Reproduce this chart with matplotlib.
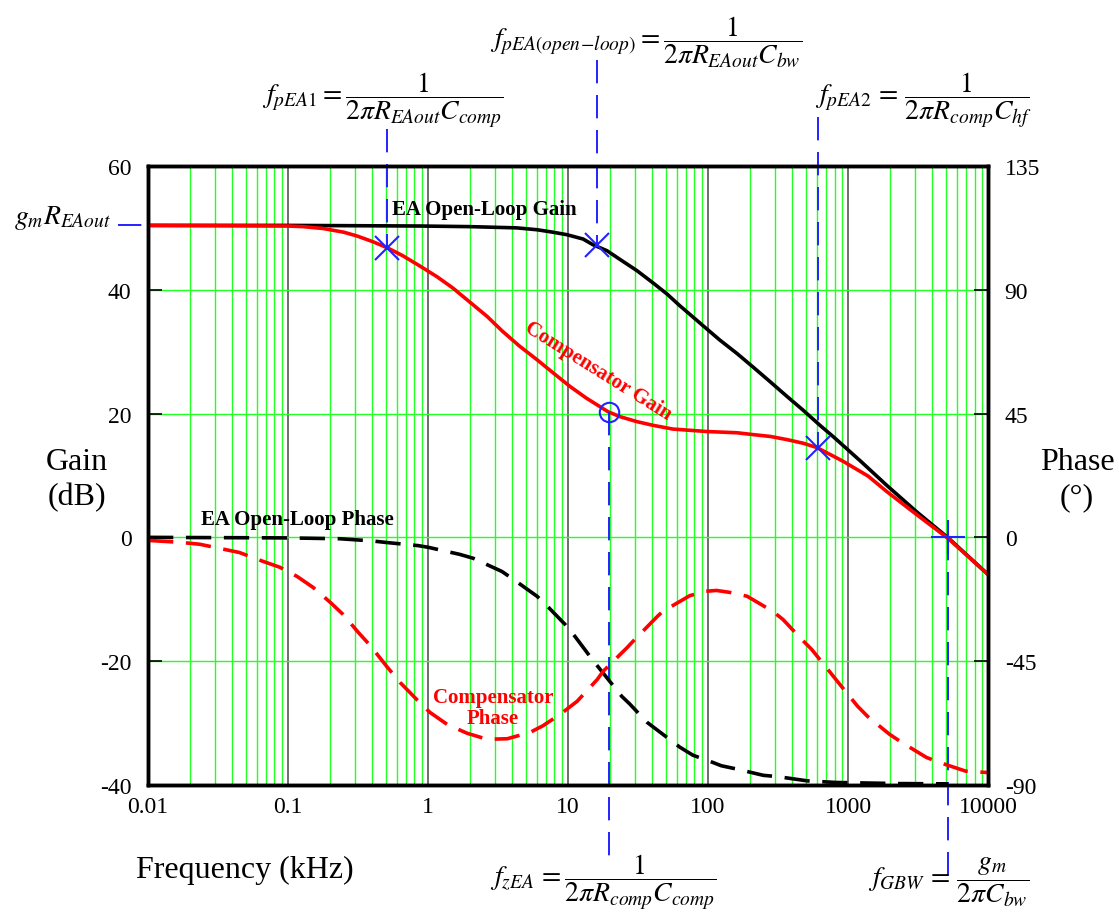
import numpy as np
import matplotlib
matplotlib.use("Agg")
import matplotlib.pyplot as plt
from matplotlib.ticker import FixedLocator, NullFormatter

plt.rcParams['font.family'] = ['Liberation Serif', 'DejaVu Serif']
plt.rcParams['mathtext.fontset'] = 'stix'
plt.rcParams['axes.unicode_minus'] = False

# frequency in kHz, gain in dB, phase in degrees
f_ol_gain = [0.01, 0.1, 0.88, 2.0, 4.3, 6.0, 7.8, 9.8, 12.8, 15, 19, 23.5, 31, 40.5, 51, 63, 78, 92,
             121, 161, 210, 279, 365, 480, 630, 790, 1230, 1890, 3100, 5200, 10000]
ol_gain = [50.4, 50.4, 50.3, 50.2, 50.0, 49.7, 49.3, 48.9, 48.2, 47.3, 46.3, 44.9, 43.1, 41.1, 39.3, 37.4, 35.6, 34.2,
           31.9, 29.7, 27.5, 25.1, 22.8, 20.5, 18.1, 16.2, 12.3, 8.4, 4.1, -0.1, -6.0]

f_comp_gain = [0.01, 0.1, 0.128, 0.178, 0.25, 0.31, 0.40, 0.51, 0.66, 0.88, 1.16, 1.5, 1.99, 2.64, 3.4, 4.5, 6.0,
               7.8, 10.3, 13.5, 19.3, 23.5, 31, 40.5, 56, 98, 161, 210, 279, 365, 480, 600, 920, 1390,
               1890, 3080, 5200, 10000]
comp_gain = [50.4, 50.3, 50.2, 49.9, 49.3, 48.7, 47.8, 46.8, 45.5, 43.8, 42.1, 40.3, 38.0, 35.7, 33.3, 30.9, 28.7,
             26.6, 24.4, 22.5, 20.3, 19.5, 18.7, 18.1, 17.5, 17.1, 16.9, 16.6, 16.3, 15.8, 15.2, 14.5, 12.3, 9.9,
             7.4, 3.7, -0.2, -6.0]

f_ol_phase = [0.01, 0.1, 0.234, 0.40, 0.49, 0.85, 1.0, 1.69, 2.1, 3.37, 4.0, 6.0, 6.8, 9.5, 11.2, 15.0, 17.4,
              24.2, 27.5, 36.6, 63, 78, 108, 124, 163, 248, 318, 509, 822, 1380, 2340, 5180]
ol_phase = [0, -0.2, -0.5, -1.3, -1.8, -3.0, -3.6, -6.2, -7.6, -12.4, -15.0, -21.4, -24.0, -31.6, -36.0, -44.6, -48.7,
            -57.8, -60.5, -67.2, -76.3, -79.2, -81.8, -83.0, -84.3, -86.5, -87.0, -88.5, -89.1, -89.3, -89.5, -89.6]

f_comp_phase = [0.01, 0.0169, 0.0234, 0.0324, 0.0449, 0.0661, 0.0877, 0.116, 0.151, 0.2, 0.247, 0.317, 0.386,
                0.51, 0.63, 0.84, 1.03, 1.37, 1.9, 2.64, 3.68, 5.35, 6.6, 8.8, 11.6, 16.2, 17.8, 26.5, 29.2,
                43.5, 47.5, 74, 95, 115, 143, 190, 290, 342, 467, 549, 765, 872, 1170, 1380, 1980, 2410,
                3630, 4480, 6940, 10000]
comp_phase = [-1.1, -1.8, -2.5, -4.0, -5.5, -8.7, -10.9, -14.2, -18.2, -23.6, -28.0, -34.5, -39.3,
              -47.1, -52.7, -59.2, -63.6, -68.0, -71.2, -73.4, -73.2, -70.9, -68.5, -64.3, -59.6, -51.6, -48.7, -40.0, -37.7,
              -28.7, -26.9, -21.2, -19.6, -19.3, -20.0, -21.4, -26.9, -29.8, -37.1, -40.7, -49.8, -53.4, -61.4, -65.1, -71.6, -74.5,
              -80.0, -81.8, -85.0, -85.5]

# marked points: (freq, gain)
f_pea1, g_pea1 = 0.51, 46.8
f_peaol, g_peaol = 16, 47.3
f_pea2, g_pea2 = 610, 14.4
f_zea, g_zea = 19.6, 20.2
f_gbw, g_gbw = 5200, 0.0

x_ticks = [0.01, 0.1, 1, 10, 100, 1000, 10000]
x_ticklabels = ['0.01', '0.1', '1', '10', '100', '1000', '10000']
gain_ticks = [-40, -20, 0, 20, 40, 60]
phase_ticks = [-90, -45, 0, 45, 90, 135]

fig = plt.figure(figsize=(11.19, 9.2), dpi=100)
ax = fig.add_axes([0.1323, 0.1457, 0.7507, 0.6728])
ax.set_xscale('log')
ax.set_xlim(0.01, 10000)
ax.set_ylim(-40, 60)
ax.set_autoscale_on(False)

# grid
minors = [k * 10.0 ** d for d in range(-2, 4) for k in range(2, 10)]
for m in minors:
    ax.axvline(m, color='#22ff22', lw=1.0, zorder=0)
for d in x_ticks[1:-1]:
    ax.axvline(d, color='#555555', lw=1.2, zorder=0)
for g in gain_ticks[1:-1]:
    ax.axhline(g, color='#22ff22', lw=1.0, zorder=0)

ax.xaxis.set_major_locator(FixedLocator(x_ticks))
ax.set_xticklabels(x_ticklabels)
ax.xaxis.set_minor_formatter(NullFormatter())
ax.tick_params(axis='x', which='both', length=0, labelsize=17, pad=8)
ax.set_yticks(gain_ticks)
ax.tick_params(axis='y', direction='in', length=10, width=1.2, labelsize=17, pad=12)
for s in ax.spines.values():
    s.set_linewidth(2.5)

ax.plot(f_ol_gain, ol_gain, color='black', lw=2.6, zorder=3)
ax.plot(f_comp_gain, comp_gain, color='red', lw=2.6, zorder=3)

ax2 = ax.twinx()
ax2.set_ylim(-90, 135)
ax2.set_yticks(phase_ticks)
ax2.tick_params(axis='y', direction='in', length=10, width=1.2, labelsize=17, pad=12)
for s in ax2.spines.values():
    s.set_linewidth(2.5)
ax2.plot(f_ol_phase, ol_phase, color='black', lw=2.6, dashes=(7, 3.5))
ax2.plot(f_comp_phase, comp_phase, color='red', lw=2.6, dashes=(7, 3.5))

# markers and blue dashed guides
blue = '#2222ff'
dash = dict(color=blue, lw=1.4, dashes=(12, 6), clip_on=False, zorder=4)
ax.plot([f_pea1, f_pea1], [65.9, g_pea1], **dash)
ax.plot([f_peaol, f_peaol], [77.2, g_peaol], **dash)
ax.plot([f_pea2, f_pea2], [67.9, g_pea2], **dash)
ax.plot([f_zea, f_zea], [g_zea, -52], **dash)
ax.plot([f_gbw, f_gbw], [g_gbw, -55.3], **dash)
ax.plot([0.0061, 0.01], [50.4, 50.4], **dash)
for fx, gx in [(f_pea1, g_pea1), (f_peaol, g_peaol), (f_pea2, g_pea2)]:
    ax.plot(fx, gx, marker='x', ms=17, mew=1.5, color=blue, zorder=5)
ax.plot(f_zea, g_zea, marker='o', ms=14, mew=1.5, mfc='none', color=blue, zorder=5)
ax.plot(f_gbw, g_gbw, marker='+', ms=24, mew=1.5, color=blue, zorder=5, clip_on=False)

# curve labels
bold = dict(fontsize=15, fontweight='bold')
ax.text(0.55, 53.0, 'EA Open-Loop Gain', color='black', ha='left', va='center', zorder=6, **bold)
ax.text(0.024, 2.9, 'EA Open-Loop Phase', color='black', ha='left', va='center', zorder=6, **bold)
ax.text(16.5, 27.0, 'Compensator Gain', color='red', rotation=-32, rotation_mode='anchor',
        ha='center', va='center', zorder=6, **bold)
ax.text(2.9, -27.5, 'Compensator\nPhase', color='red', ha='center', va='center',
        linespacing=1.05, zorder=6, **bold)

# formulas and axis titles in figure pixels
def px(x, y):
    return x / 1119.0, 1 - y / 920.0

mfs = 20
fig.text(*px(262, 100), r'$f_{pEA1}=\dfrac{1}{2\pi R_{EAout}C_{comp}}$', fontsize=mfs, ha='left', va='center')
fig.text(*px(490, 42), r'$f_{pEA(open\!-\!loop)}=\dfrac{1}{2\pi R_{EAout}C_{bw}}$', fontsize=mfs,
         ha='left', va='center')
fig.text(*px(815, 100), r'$f_{pEA2}\,=\,\dfrac{1}{2\pi R_{comp}C_{hf}}$', fontsize=mfs, ha='left', va='center')
fig.text(*px(490, 882), r'$f_{zEA}\,=\dfrac{1}{2\pi R_{comp}C_{comp}}$', fontsize=mfs, ha='left', va='center')
fig.text(*px(868, 882), r'$f_{GBW}\,=\,\dfrac{g_m}{2\pi C_{bw}}$', fontsize=mfs, ha='left', va='center')
fig.text(*px(14, 218), r'$g_m R_{EAout}$', fontsize=mfs, ha='left', va='center')

fig.text(*px(245, 870), 'Frequency (kHz)', fontsize=23, ha='center', va='center')
fig.text(*px(77, 480), 'Gain\n(dB)', fontsize=23, ha='center', va='center', linespacing=1.3)
fig.text(*px(1077, 480), 'Phase\n(°)', fontsize=23, ha='center', va='center', linespacing=1.3)

fig.savefig('out.png', dpi=100)
